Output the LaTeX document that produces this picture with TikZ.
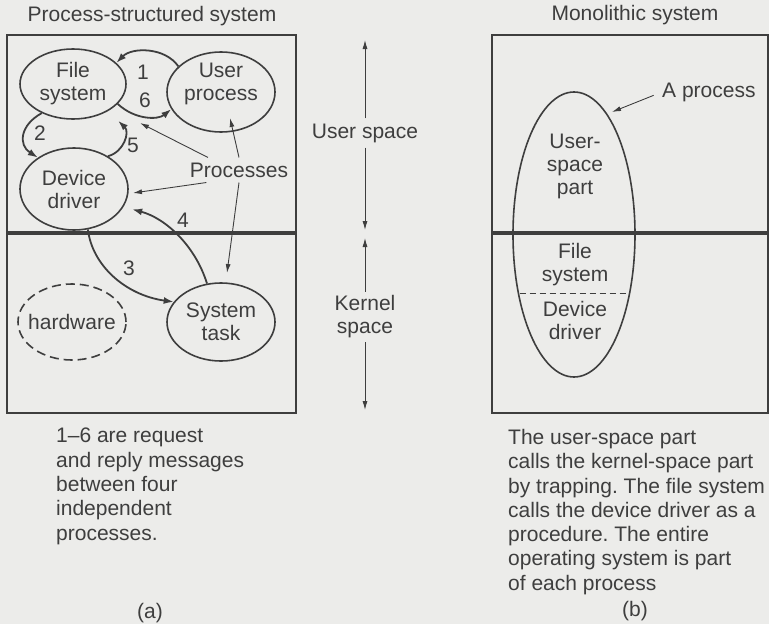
\documentclass[tikz,border=0pt]{standalone}
\usepackage{fontspec}
\setmainfont{Liberation Sans}
\usetikzlibrary{shapes.geometric,arrows.meta}
\definecolor{bg}{RGB}{236,236,234}
\definecolor{ink}{RGB}{62,62,62}
\frenchspacing
\begin{document}
\begin{tikzpicture}[x=1pt,y=-1pt,
  every node/.style={text=ink, font=\fontsize{21}{23}\selectfont, inner sep=0pt},
  proc/.style={ellipse, draw=ink, line width=1.6pt, align=center},
  msg/.style={draw=ink, line width=1.8pt, -{Latex[length=10pt,width=7pt]}},
  thinarrow/.style={draw=ink, line width=0.9pt, -{Latex[length=9pt,width=5pt]}},
  frame/.style={draw=ink, line width=1.3pt},
  divider/.style={draw=ink, line width=3.2pt},
  midlabel/.style={inner sep=5pt, align=center},
  caption/.style={align=left, anchor=north west, font=\fontsize{21}{24.3}\selectfont}]
\fill[bg] (0,0) rectangle (769,624);
\useasboundingbox (0,0) rectangle (769,624);

% titles
\node (ta) at (152,16) {Process-structured system};
\node (tb) at (635,15) {Monolithic system};

% ---------- (a) ----------
\draw[frame] (7,35) rectangle (296,413);
\draw[divider] (7,233) -- (296,233);

\node[proc, minimum width=106pt, minimum height=70pt] (fs) at (73,84) {File\\system};
\node[proc, minimum width=108pt, minimum height=80pt,
      label={[yshift=8.5pt, align=center]center:User\\process}] (up) at (221,92) {};
\node[proc, minimum width=108pt, minimum height=82pt] (dd) at (74,189) {Device\\driver};
\node[proc, minimum width=108pt, minimum height=78pt] (st) at (221,322) {System\\task};
\node[proc, dash pattern=on 9pt off 5pt, minimum width=108pt, minimum height=76pt] (hw) at (72,322) {\makebox[0pt]{hardware}};

% messages
\draw[msg] (up.149) .. controls (165,47) and (132,47) .. (fs.26);
\draw[msg] (fs.-24) .. controls (135,120) and (158,120) .. (up.199);
\draw[msg] (fs.223) .. controls (20,125) and (18,145) .. (dd.139);
\draw[msg, shorten >=14pt] (dd.44) .. controls (124,152) and (130,132) .. (fs.-38);
\draw[msg, shorten >=9pt] (st.110) .. controls (195,245) and (165,218) .. (dd.-20);
\draw[msg] (dd.-71) .. controls (92,265) and (125,295) .. (st.157);

\node (n1) at (143,72) {1};
\node (n6) at (145,100) {6};
\node (n2) at (40,133) {2};
\node (n5) at (133,145) {5};
\node (n4) at (183,220) {4};
\node (n3) at (129,268) {3};

% processes
\node[inner sep=5pt] (procs) at (239,170) {Processes};
\coordinate (tfs) at (140,123);
\coordinate (tup) at (230,118);
\coordinate (tdd) at (133,193);
\coordinate (tst) at (227,273);
\draw[thinarrow] (procs.158) -- (tfs);
\draw[thinarrow] (procs.north) -- (tup);
\draw[thinarrow] (procs.201) -- (tdd);
\draw[thinarrow] (procs.south) -- (tst);

% ---------- middle ----------
\node[midlabel] (us) at (365,133) {User space};
\node[midlabel, inner sep=4pt] (ks) at (365,317) {Kernel\\space};
\coordinate (u1) at (365,40);
\coordinate (u2) at (365,230);
\coordinate (k1) at (365,238);
\coordinate (k2) at (365,410);
\draw[thinarrow] (us) -- (u1);
\draw[thinarrow] (us) -- (u2);
\draw[thinarrow] (ks) -- (k1);
\draw[thinarrow] (ks) -- (k2);

% ---------- (b) ----------
\draw[frame] (492,35) rectangle (768,413);
\draw[divider] (492,233) -- (768,233);
\node[ellipse, draw=ink, line width=1.6pt, minimum width=122pt, minimum height=285pt] (mono) at (574,234.5) {};
\node[align=center] (usp) at (575,166.5) {User-\\space\\part};
\node[align=center] (mfs) at (575,264.5) {File\\system};
\node[align=center] (mdd) at (575,320) {Device\\driver};
\draw[ink, line width=1pt, dash pattern=on 6pt off 4pt] (519.5,293) -- (628.5,293);

\node[anchor=west] (ap) at (662,92) {A process};
\coordinate (apt) at (612,112);
\draw[thinarrow, shorten <=9pt] (ap.west) -- (apt);

% captions
\node[caption] (capa) at (56,428) {1–6 are request\\and reply messages\\between four\\independent\\processes.};
\node[caption] (capb) at (508,429) {The user-space part\\calls the kernel-space part\\by trapping. The file system\\calls the device driver as a\\procedure. The entire\\operating system is part\\of each process};

\node (la) at (150,613) {(a)};
\node (lb) at (635,611) {(b)};
\end{tikzpicture}
\end{document}
